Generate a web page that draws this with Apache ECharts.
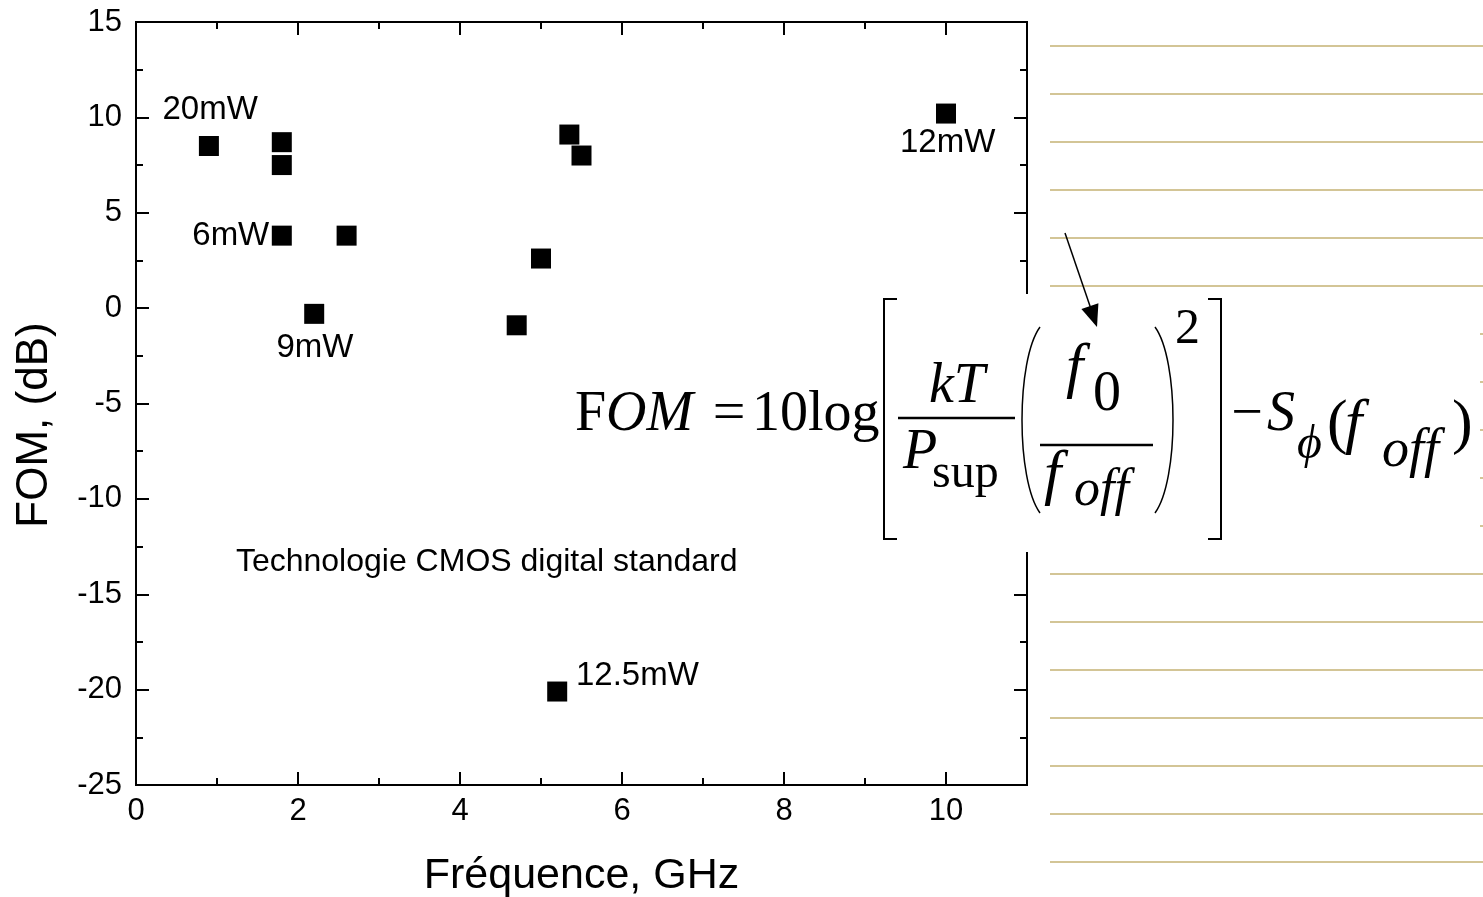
<!DOCTYPE html>
<html><head><meta charset="utf-8">
<script src="https://cdn.jsdelivr.net/npm/echarts@6/dist/echarts.min.js"></script>
<style>html,body{margin:0;padding:0;background:#fff}#c{width:1483px;height:897px}</style>
</head><body><div id="c"></div>
<script>
// ---- data ----
const freqGHz = [0.9, 1.8, 1.8, 1.8, 2.6, 2.2, 4.7, 5.0, 5.35, 5.5, 10.0, 5.2];
const fomDB   = [8.5, 8.7, 7.5, 3.8, 3.8, -0.3, -0.9, 2.6, 9.1, 8.0, 10.2, -20.1];
const xTickLabels = [0, 2, 4, 6, 8, 10];
const yTickLabels = [-25, -20, -15, -10, -5, 0, 5, 10, 15];
const noteTexts = ['20mW', '6mW', '9mW', '12mW', '12.5mW', 'Technologie CMOS digital standard'];
const noteX = [0.915, 1.17, 2.21, 10.02, 6.19, 4.33];
const noteY = [10.39, 3.78, -2.09, 8.66, -19.29, -13.31];

const chart = echarts.init(document.getElementById('c'), null, {renderer: 'canvas'});
const SANS = 'Liberation Sans, Arial, sans-serif';
const SERIF = 'Liberation Serif, Times New Roman, serif';
const black = '#000';

function xAx(grid, pos, interval, len, labels) {
  return {
    type: 'value', gridIndex: grid, position: pos, min: 0, max: 11, interval: interval,
    axisLine: {show: true, onZero: false, lineStyle: {color: black, width: 2}},
    axisTick: {show: true, inside: true, length: len, lineStyle: {color: black, width: 2}},
    splitLine: {show: false},
    axisLabel: labels ? {show: true, fontSize: 31, fontFamily: SANS, color: black, margin: 11,
      formatter: v => xTickLabels.indexOf(v) >= 0 ? String(v) : ''} : {show: false}
  };
}
function yAx(grid, pos, interval, len, labels) {
  return {
    type: 'value', gridIndex: grid, position: pos, min: -25, max: 15, interval: interval,
    axisLine: {show: true, onZero: false, lineStyle: {color: black, width: 2}},
    axisTick: {show: true, inside: true, length: len, lineStyle: {color: black, width: 2}},
    splitLine: {show: false},
    axisLabel: labels ? {show: true, fontSize: 31, fontFamily: SANS, color: black, margin: 14,
      formatter: v => yTickLabels.indexOf(v) >= 0 ? String(v) : ''} : {show: false}
  };
}

const gridBox = {left: 136, right: 456, top: 22, bottom: 112, containLabel: false, outerBoundsMode: 'none'};

const xMajor = xAx(0, 'bottom', 2, 13, true);
xMajor.name = 'Fréquence, GHz';
xMajor.nameLocation = 'middle';
xMajor.nameGap = 70;
xMajor.nameTextStyle = {fontSize: 43, fontFamily: SANS, color: black};
const yMajor = yAx(0, 'left', 5, 13, true);
yMajor.name = 'FOM, (dB)';
yMajor.nameLocation = 'middle';
yMajor.nameRotate = 90;
yMajor.nameGap = 79;
yMajor.nameTextStyle = {fontSize: 44, fontFamily: SANS, color: black, padding: [0, 43, 0, 0]};

// ---- decoration: ruled lines on the right ----
const graphics = [];
for (let k = 0; k < 18; k++) {
  const y = 46 + 48 * k;
  graphics.push({type: 'line', z: 50, silent: true,
    shape: {x1: 1050, y1: y, x2: 1483, y2: y},
    style: {stroke: '#d3c596', lineWidth: 2}});
}
// white box behind formula
graphics.push({type: 'rect', z: 60, silent: true,
  shape: {x: 880, y: 294, width: 600, height: 258}, style: {fill: '#fff'}});

function txt(s, x, baseline, size, italic, align) {
  return {type: 'text', z: 70, silent: true,
    style: {text: s, x: x, y: baseline - size * 0.3, fill: black,
      font: (italic ? 'italic ' : '') + size + 'px ' + SERIF,
      align: align || 'left', verticalAlign: 'middle'}};
}
function pl(points, w) {
  return {type: 'polyline', z: 70, silent: true, shape: {points: points},
    style: {stroke: black, lineWidth: w || 2, fill: null}};
}
// formula: FOM = 10log[ kT/Psup (f0/foff)^2 ] - Sphi(foff)
graphics.push(txt('F', 575, 432, 56, false));
graphics.push(txt('OM', 606, 432, 56, true));
graphics.push(txt('=', 729, 432, 58, false, 'center'));
graphics.push(txt('10log', 752, 432, 56, false));
graphics.push(pl([[897, 299], [884, 299], [884, 539], [897, 539]], 2));
graphics.push(txt('kT', 957, 404, 56, true, 'center'));
graphics.push(pl([[898, 418], [1015, 418]], 2.5));
graphics.push(txt('P', 903, 470, 56, true));
graphics.push(txt('sup', 932, 489, 48, false));
graphics.push({type: 'bezierCurve', z: 70, silent: true,
  shape: {x1: 1040, y1: 327, cpx1: 1016, cpy1: 360, cpx2: 1016, cpy2: 480, x2: 1040, y2: 513},
  style: {stroke: black, lineWidth: 1.5, fill: null}});
graphics.push({type: 'bezierCurve', z: 70, silent: true,
  shape: {x1: 1155, y1: 327, cpx1: 1179, cpy1: 360, cpx2: 1179, cpy2: 480, x2: 1155, y2: 513},
  style: {stroke: black, lineWidth: 1.5, fill: null}});
graphics.push(txt('f', 1066, 388, 62, true));
graphics.push(txt('0', 1093, 412, 56, false));
graphics.push(pl([[1040, 445], [1153, 445]], 2.5));
graphics.push(txt('f', 1044, 495, 62, true));
graphics.push(txt('off', 1074, 507, 52, true));
graphics.push(txt('2', 1175, 345, 50, false));
graphics.push(pl([[1208, 299], [1221, 299], [1221, 539], [1208, 539]], 2));
graphics.push(txt('\u2212', 1247, 432, 56, false, 'center'));
graphics.push(txt('S', 1267, 432, 56, true));
graphics.push(txt('\u03d5', 1297, 460, 48, true));
graphics.push(txt('(', 1327, 444, 62, false));
graphics.push(txt('f', 1345, 444, 62, true));
graphics.push(txt('off', 1382, 468, 54, true));
graphics.push(txt(')', 1452, 444, 62, false));
// arrow
graphics.push(pl([[1065, 233], [1091, 309]], 1.5));
graphics.push({type: 'polygon', z: 75, silent: true,
  shape: {points: [[1097, 327], [1098.4, 303.3], [1081.4, 309.1]]},
  style: {fill: black}});

const option = {
  animation: false,
  backgroundColor: '#fff',
  grid: [Object.assign({}, gridBox), Object.assign({}, gridBox)],
  xAxis: [xMajor, xAx(0, 'top', 2, 13, false), xAx(1, 'bottom', 1, 7, false), xAx(1, 'top', 1, 7, false)],
  yAxis: [yMajor, yAx(0, 'right', 5, 13, false), yAx(1, 'left', 2.5, 7, false), yAx(1, 'right', 2.5, 7, false)],
  series: [
    {type: 'scatter', xAxisIndex: 0, yAxisIndex: 0, symbol: 'rect', symbolSize: 20,
      itemStyle: {color: black, opacity: 1}, emphasis: {disabled: true}, silent: true, z: 5,
      data: freqGHz.map((f, i) => [f, fomDB[i]])},
    {type: 'scatter', xAxisIndex: 0, yAxisIndex: 0, symbolSize: 0, silent: true, z: 6,
      itemStyle: {opacity: 1},
      emphasis: {disabled: true},
      data: noteTexts.map((t, i) => ({name: t, value: [noteX[i], noteY[i]],
        label: {fontSize: i === 5 ? 32 : 33}})),
      label: {show: true, position: 'inside', formatter: p => p.name, color: black,
        fontFamily: SANS, fontSize: 33, opacity: 1}}
  ],
  graphic: graphics
};
chart.setOption(option);
</script></body></html>
